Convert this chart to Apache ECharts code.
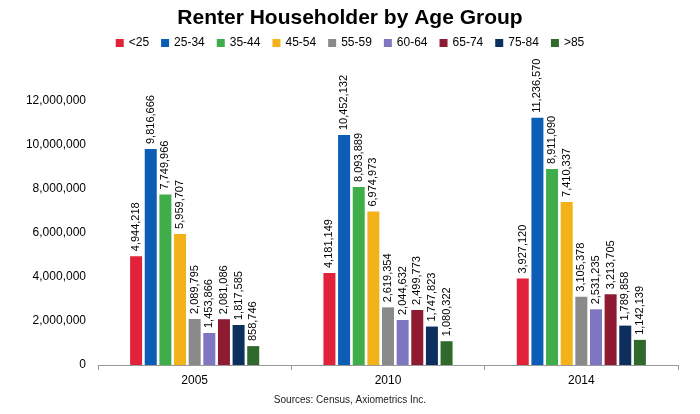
<!DOCTYPE html>
<html lang="en">
<head>
<meta charset="UTF-8">
<title>Renter Householder by Age Group</title>
<script src="https://cdn.jsdelivr.net/npm/echarts@6/dist/echarts.min.js"></script>
<style>body{margin:0}#chart{width:700px;height:414px}</style>
</head>
<body>
<div id="chart"></div>
<script>
var years = ['2005', '2010', '2014'];
var groups = ['<25', '25-34', '35-44', '45-54', '55-59', '60-64', '65-74', '75-84', '>85'];
var colors = ['#E2213B', '#0B5DB5', '#3FAE4A', '#F3B21A', '#8A8A8A', '#7F76C2', '#8E1B32', '#0C2F5E', '#2F6A2C'];
var v_lt25 = [4944218, 4181149, 3927120];
var v_25_34 = [9816666, 10452132, 11236570];
var v_35_44 = [7749966, 8093889, 8911090];
var v_45_54 = [5959707, 6974973, 7410337];
var v_55_59 = [2089795, 2619354, 3105378];
var v_60_64 = [1453866, 2044632, 2531235];
var v_65_74 = [2081086, 2499773, 3213705];
var v_75_84 = [1817585, 1747823, 1789858];
var v_gt85 = [858746, 1080322, 1142139];
var values = [v_lt25, v_25_34, v_35_44, v_45_54, v_55_59, v_60_64, v_65_74, v_75_84, v_gt85];

var font = 'Liberation Sans, Arial, sans-serif';
var chart = echarts.init(document.getElementById('chart'));
chart.setOption({
  animation: false,
  title: [
    { text: 'Renter Householder by Age Group', left: 'center', top: 3,
      textStyle: { fontFamily: font, fontSize: 21, fontWeight: 'bold', color: '#000' } },
    { text: 'Sources: Census, Axiometrics Inc.', left: 'center', bottom: 4,
      textStyle: { fontFamily: font, fontSize: 10, fontWeight: 'normal', color: '#222' } }
  ],
  legend: {
    top: 32, left: 'center', itemWidth: 8, itemHeight: 8, itemGap: 12, icon: 'rect',
    textStyle: { fontFamily: font, fontSize: 12, color: '#000' }
  },
  grid: { left: 98, right: 22, top: 101, bottom: 49 },
  xAxis: {
    type: 'category', data: years,
    axisLine: { lineStyle: { color: '#999' } },
    axisTick: { show: true, lineStyle: { color: '#999' } },
    axisLabel: { fontFamily: font, fontSize: 12, color: '#000', margin: 10 }
  },
  yAxis: {
    type: 'value', min: 0, max: 12000000, interval: 2000000,
    splitLine: { show: false },
    axisLine: { show: false },
    axisLabel: { fontFamily: font, fontSize: 12, color: '#000', margin: 12,
      formatter: function (v) { return v.toLocaleString('en-US'); } }
  },
  series: groups.map(function (g, i) {
    return {
      name: g, type: 'bar', data: values[i], barWidth: 12, barGap: '22%',
      itemStyle: { color: colors[i] },
      label: {
        show: true, position: 'top', rotate: 90, align: 'left', verticalAlign: 'middle',
        distance: 5, fontFamily: font, fontSize: 11, color: '#000',
        formatter: function (p) { return p.value.toLocaleString('en-US'); }
      }
    };
  })
});
</script>
</body>
</html>
